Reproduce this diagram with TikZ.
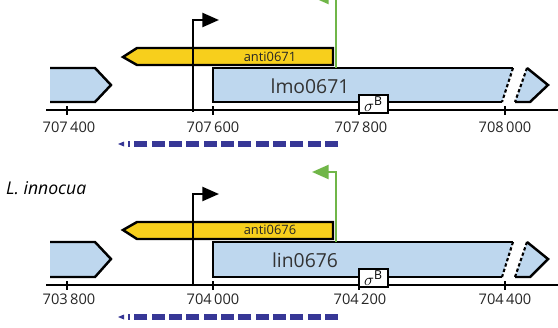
\documentclass[tikz,border=0pt]{standalone}
\usepackage{fontspec}
\setmainfont{Open Sans}
\usetikzlibrary{arrows.meta}
\definecolor{geneblue}{RGB}{190, 215, 238}
\definecolor{antiyellow}{RGB}{247, 207, 28}
\definecolor{promgreen}{RGB}{112, 182, 72}
\definecolor{rnanavy}{RGB}{55, 55, 150}

\begin{document}
\begin{tikzpicture}[x=0.03cm, y=-0.03cm,
    genline/.style={draw=black, line width=2.1pt, line join=miter},
    breakline/.style={genline, line width=1.8pt, dash pattern=on 2.8pt off 2pt},
    axisline/.style={black, line width=1.4pt},
    tickline/.style={black, line width=1.2pt},
    ticklabel/.style={font=\fontsize{12.5}{14}\selectfont, text=black!85},
    genelabel/.style={font=\fontsize{16.5}{18}\selectfont, text=black!80},
    antilabel/.style={font=\fontsize{11}{13}\selectfont, text=black!85},
    sigbox/.style={draw=black, line width=1.6pt, fill=white, minimum width=0.87cm,
      minimum height=0.54cm, inner sep=0pt, font=\fontsize{15}{16}\selectfont},
    prom/.style={line width=2pt, -{Triangle[length=5mm, width=4.2mm]}},
    rna/.style={rnanavy, line width=5.5pt, dash pattern=on 11pt off 3.8pt}]
  \clip (0,0) rectangle (558,327);

  % ---------- L. monocytogenes ----------
  % Axis and ticks
  \draw[axisline] (46,110) -- (558,110);
  \foreach \x in {67,213,359,505} \draw[tickline] (\x,106) -- (\x,115);
  \node[ticklabel] (ta1) at (69,127) {707\,400};
  \node[ticklabel] (ta2) at (213,127) {707\,600};
  \node[ticklabel] (ta3) at (361,127) {707\,800};
  \node[ticklabel] (ta4) at (505,127) {708\,000};

  % Upstream gene
  \fill[geneblue] (50,68) -- (95,68) -- (111,85) -- (95,102) -- (50,102) -- cycle;
  \draw[genline] (50,68) -- (95,68) -- (111,85) -- (95,102) -- (50,102);

  % Antisense gene
  \draw[genline, fill=antiyellow] (333,48) -- (137,48) -- (123,57) -- (137,65) -- (333,65) -- cycle;
  \node[antilabel] (antia) at (270,57) {anti0671};

  % lmo0671 with break
  \fill[geneblue] (213,68) -- (513,68) -- (502,102) -- (213,102) -- cycle;
  \draw[genline] (513,68) -- (213,68) -- (213,102) -- (502,102);
  \draw[breakline] (513,68) -- (502,102);
  \fill[geneblue] (527,68) -- (548,85) -- (530,102) -- (515,102) -- cycle;
  \draw[genline] (527,68) -- (548,85) -- (530,102) -- (515,102);
  \draw[breakline] (527,68) -- (515,102);
  \node[genelabel] (genea) at (310,86) {lmo0671};
  \node[sigbox] (siga) at (373.5,104) {$\sigma$\textsuperscript{B}};

  % Promoters
  \coordinate (pa0) at (193,112);
  \coordinate (pa1) at (193,20);
  \coordinate (pa2) at (219,20);
  \draw[prom] (pa0) -- (pa1) -- (pa2);
  \coordinate (qa0) at (336,68);
  \coordinate (qa1) at (336,-3);
  \coordinate (qa2) at (312,-3);
  \draw[prom, promgreen] (qa0) -- (qa1) -- (qa2);

  % Antisense transcript
  \coordinate (ra0) at (338,144);
  \coordinate (ra1) at (128,144);
  \draw[rna] (ra0) -- (ra1);
  \fill[rnanavy] (124,141.5) -- (118,144) -- (124,146.5) -- cycle;

  % ---------- L. innocua ----------
  \begin{scope}[shift={(0,175)}]
  \node[font=\fontsize{15}{17}\selectfont\itshape, anchor=west, inner sep=0pt] (spec) at (6,13) {L. innocua};

  % Axis and ticks
  \draw[axisline] (46,110) -- (558,110);
  \foreach \x in {67,213,359,505} \draw[tickline] (\x,106) -- (\x,115);
  \node[ticklabel] (tb1) at (69,124) {703\,800};
  \node[ticklabel] (tb2) at (213,124) {704\,000};
  \node[ticklabel] (tb3) at (360,124) {704\,200};
  \node[ticklabel] (tb4) at (505,124) {704\,400};

  % Upstream gene
  \fill[geneblue] (50,67) -- (95,67) -- (111,84) -- (95,102) -- (50,102) -- cycle;
  \draw[genline] (50,67) -- (95,67) -- (111,84) -- (95,102) -- (50,102);

  % Antisense gene
  \draw[genline, fill=antiyellow] (333,47) -- (137,47) -- (123,55) -- (137,64) -- (333,64) -- cycle;
  \node[antilabel] (antib) at (270,55) {anti0676};

  % lin0676 with break
  \fill[geneblue] (213,67) -- (513,67) -- (502,102) -- (213,102) -- cycle;
  \draw[genline] (513,67) -- (213,67) -- (213,102) -- (502,102);
  \draw[breakline] (513,67) -- (502,102);
  \fill[geneblue] (527,67) -- (548,84) -- (530,102) -- (515,102) -- cycle;
  \draw[genline] (527,67) -- (548,84) -- (530,102) -- (515,102);
  \draw[breakline] (527,67) -- (515,102);
  \node[genelabel] (geneb) at (305,85) {lin0676};
  \node[sigbox] (sigb) at (373.5,103) {$\sigma$\textsuperscript{B}};

  % Promoters
  \coordinate (pb0) at (193,111);
  \coordinate (pb1) at (193,19);
  \coordinate (pb2) at (219,19);
  \draw[prom] (pb0) -- (pb1) -- (pb2);
  \coordinate (qb0) at (336,67);
  \coordinate (qb1) at (336,-3);
  \coordinate (qb2) at (312,-3);
  \draw[prom, promgreen] (qb0) -- (qb1) -- (qb2);

  % Antisense transcript
  \coordinate (rb0) at (338,142);
  \coordinate (rb1) at (128,142);
  \draw[rna] (rb0) -- (rb1);
  \fill[rnanavy] (124,139.5) -- (118,142) -- (124,144.5) -- cycle;
  \end{scope}
\end{tikzpicture}
\end{document}
